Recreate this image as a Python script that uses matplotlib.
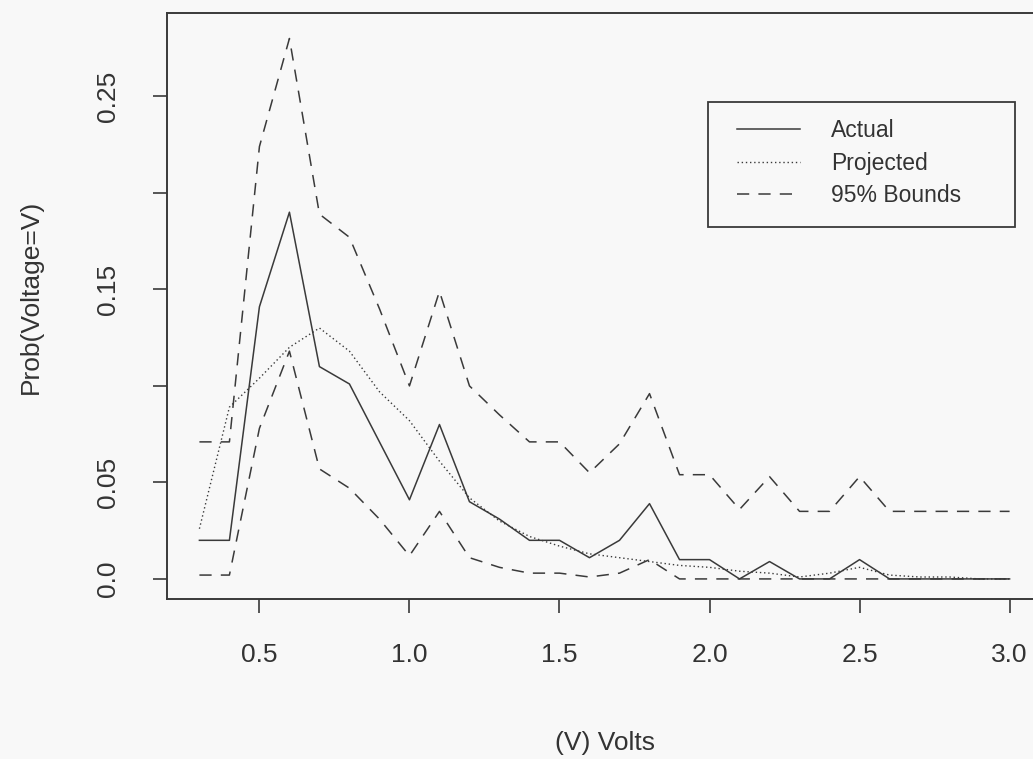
import matplotlib
matplotlib.use("Agg")
import matplotlib.pyplot as plt
from matplotlib.patches import Rectangle

plt.rcParams['font.family'] = ['Liberation Sans', 'DejaVu Sans']

volts = [0.3, 0.4, 0.5, 0.6, 0.7, 0.8, 0.9, 1.0, 1.1, 1.2, 1.3, 1.4, 1.5, 1.6,
         1.7, 1.8, 1.9, 2.0, 2.1, 2.2, 2.3, 2.4, 2.5, 2.6, 2.7, 2.8, 2.9, 3.0]

actual = [0.020, 0.020, 0.141, 0.190, 0.110, 0.101, 0.071, 0.041, 0.080, 0.040,
          0.031, 0.020, 0.020, 0.011, 0.020, 0.039, 0.010, 0.010, 0.000, 0.009,
          0.000, 0.000, 0.010, 0.000, 0.000, 0.000, 0.000, 0.000]

projected = [0.026, 0.089, 0.104, 0.120, 0.130, 0.118, 0.097, 0.082, 0.061, 0.042,
             0.030, 0.022, 0.017, 0.013, 0.011, 0.009, 0.007, 0.006, 0.004, 0.003,
             0.001, 0.003, 0.006, 0.002, 0.001, 0.001, 0.000, 0.000]

upper = [0.071, 0.071, 0.224, 0.280, 0.189, 0.177, 0.140, 0.100, 0.149, 0.100,
         0.085, 0.071, 0.071, 0.055, 0.070, 0.096, 0.054, 0.054, 0.036, 0.053,
         0.035, 0.035, 0.053, 0.035, 0.035, 0.035, 0.035, 0.035]

lower = [0.002, 0.002, 0.078, 0.118, 0.057, 0.047, 0.031, 0.012, 0.035, 0.011,
         0.006, 0.003, 0.003, 0.001, 0.003, 0.010, 0.000, 0.000, 0.000, 0.000,
         0.000, 0.000, 0.000, 0.000, 0.000, 0.000, 0.000, 0.000]

xticks = [0.5, 1.0, 1.5, 2.0, 2.5, 3.0]
yticks = [0.0, 0.05, 0.10, 0.15, 0.20, 0.25]
ytick_labels = ['0.0', '0.05', '', '0.15', '', '0.25']

W, H = 1033, 759
ink = '#3a3a3a'
txt = '#333333'
bg = '#f8f8f8'

# axes box in pixels: left 167, right ~1042 (cut off by the figure edge), top 13, bottom 599
L, R, T, B = 167, 1042, 13, 599
fig = plt.figure(figsize=(W / 100, H / 100), dpi=100, facecolor=bg)
ax = fig.add_axes([L / W, 1 - B / H, (R - L) / W, (B - T) / H])
ax.set_facecolor(bg)

ax.plot(volts, actual, color=ink, lw=1.1, label='Actual')
ax.plot(volts, projected, color=ink, lw=1.0, ls=(0, (1, 2)), label='Projected')
ax.plot(volts, upper, color=ink, lw=1.1, ls=(0, (8, 6)), label='95% Bounds')
ax.plot(volts, lower, color=ink, lw=1.1, ls=(0, (8, 6)))

ax.set_xlim(0.192, 3.108)
ax.set_ylim(-0.0104, 0.2932)

ax.set_xticks(xticks)
ax.set_xticklabels([f'{t:.1f}' for t in xticks])
ax.set_yticks(yticks)
ax.set_yticklabels(ytick_labels, rotation=90, va='center')

ax.tick_params(axis='both', direction='out', length=10, width=1.2, color=ink,
               labelsize=19, labelcolor=txt)
ax.tick_params(axis='x', pad=22)
ax.tick_params(axis='y', pad=24)

for s in ax.spines.values():
    s.set_color(ink)
    s.set_linewidth(1.4)

ax.set_xlabel('(V) Volts', fontsize=19, color=txt)
ax.set_ylabel('Prob(Voltage=V)', fontsize=19, color=txt)
ax.xaxis.set_label_coords((605 - L) / (R - L), -(731 - B) / (B - T))
ax.yaxis.set_label_coords(-(L - 43) / (R - L), (B - 297) / (B - T))

# legend frame drawn separately so its size can match the original box
ax.add_patch(Rectangle((708 / W, 1 - 227 / H), (1015 - 708) / W, (227 - 102) / H,
                       transform=fig.transFigure, clip_on=False, fill=True,
                       facecolor=bg, edgecolor=ink, lw=1.3, zorder=4))
leg = ax.legend(loc='upper left', bbox_to_anchor=(737 / W, 1 - 119 / H),
                bbox_transform=fig.transFigure, borderaxespad=0, borderpad=0,
                frameon=False, fontsize=16.5, handlelength=2.75,
                handletextpad=1.35, labelspacing=0.42, labelcolor=txt)
leg.set_zorder(6)

fig.savefig('out.png', dpi=100, facecolor=bg)
